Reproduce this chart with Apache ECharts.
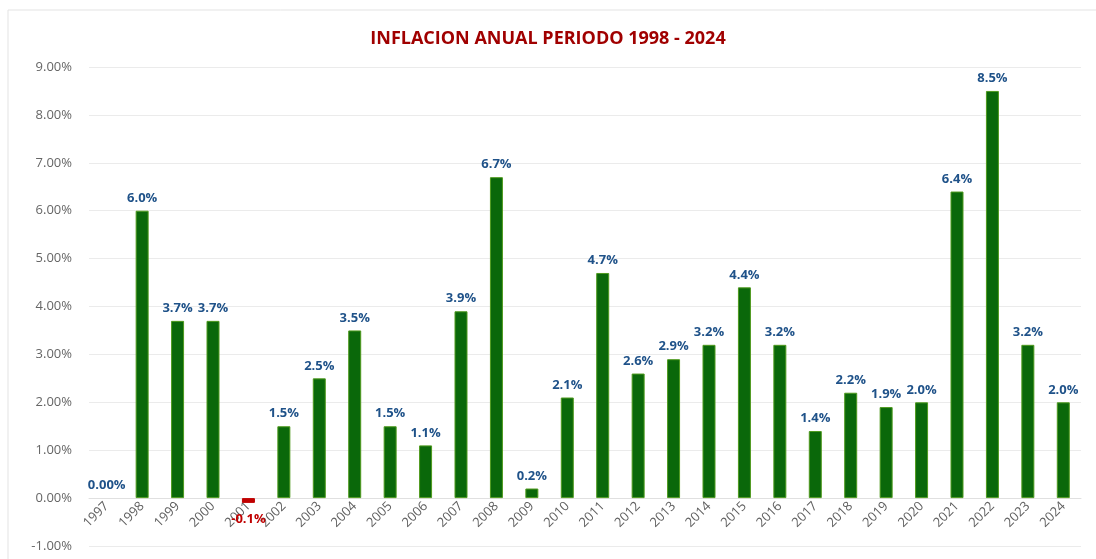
<!DOCTYPE html>
<html>
<head>
<meta charset="utf-8">
<script src="https://cdn.jsdelivr.net/npm/echarts@6/dist/echarts.min.js"></script>
<style>
	html, body { margin: 0; padding: 0; background: #fff; }
	#inflacion_chart { width: 1096px; height: 559px; }
</style>
</head>
<body>
<div id="inflacion_chart"></div>
<script>
var years = ['1997', '1998', '1999', '2000', '2001', '2002', '2003', '2004', '2005', '2006',
	'2007', '2008', '2009', '2010', '2011', '2012', '2013', '2014', '2015', '2016',
	'2017', '2018', '2019', '2020', '2021', '2022', '2023', '2024'];
var inflacion = [0.0, 6.0, 3.7, 3.7, -0.1, 1.5, 2.5, 3.5, 1.5, 1.1,
	3.9, 6.7, 0.2, 2.1, 4.7, 2.6, 2.9, 3.2, 4.4, 3.2,
	1.4, 2.2, 1.9, 2.0, 6.4, 8.5, 3.2, 2.0];
var yMin = -1;
var yMax = 9;
var yStep = 1;

var gridTop = 67;
var gridBottom = 13;
var plotHeight = 559 - gridTop - gridBottom;
// el eje de categorias se dibuja sobre la linea del 0%
var zeroOffset = plotHeight * (0 - yMin) / (yMax - yMin);

var chartData = [];
for (var i = 0; i < inflacion.length; i++) {
	var v = inflacion[i];
	var item = {value: v};
	if (v < 0) {
		// el negativo va en rojo, con la etiqueta debajo
		item.itemStyle = {color: '#c00000', borderColor: '#c00000'};
		item.label = {position: 'bottom', color: '#c00000', distance: 10};
	} else if (v === 0) {
		item.itemStyle = {borderWidth: 0, color: 'rgba(0,0,0,0)'};
	}
	chartData.push(item);
}

var myChart = echarts.init(document.getElementById('inflacion_chart'));

var option = {
	animation: false,
	backgroundColor: '#ffffff',
	title: {
		text: 'INFLACION ANUAL PERIODO 1998 - 2024',
		left: 'center',
		top: 25,
		textStyle: {
			color: '#a00000',
			fontFamily: 'Open Sans',
			fontWeight: 'bold',
			fontSize: 18
		}
	},
	graphic: [
		{
			type: 'rect',
			shape: {x: 8, y: 10, width: 1100, height: 560},
			style: {fill: 'none', stroke: '#e3e3e3', lineWidth: 1},
			silent: true
		}
	],
	grid: {
		left: 89,
		right: 15,
		top: gridTop,
		bottom: gridBottom,
		outerBoundsMode: 'none'
	},
	xAxis: {
		type: 'category',
		data: years,
		offset: -zeroOffset,
		axisLine: {onZero: false, lineStyle: {color: '#e0e0e0'}},
		axisTick: {show: false},
		axisLabel: {
			rotate: 45,
			interval: 0,
			margin: 6,
			color: '#5f5f5f',
			fontFamily: 'Open Sans',
			fontSize: 13
		}
	},
	yAxis: {
		type: 'value',
		min: yMin,
		max: yMax,
		interval: yStep,
		axisLine: {show: false},
		axisTick: {show: false},
		splitLine: {lineStyle: {color: '#ebebeb'}},
		axisLabel: {
			margin: 17,
			color: '#666666',
			fontFamily: 'Open Sans',
			fontSize: 13,
			formatter: function (val) {
				return val.toFixed(2) + '%';
			}
		}
	},
	series: [
		{
			name: 'Inflacion',
			type: 'bar',
			data: chartData,
			barWidth: 13,
			itemStyle: {
				color: '#0a680a',
				borderColor: '#4f9a1e',
				borderWidth: 1
			},
			label: {
				show: true,
				position: 'top',
				distance: 6,
				color: '#1f5289',
				fontFamily: 'Open Sans',
				fontWeight: 'bold',
				fontSize: 13,
				formatter: function (p) {
					if (p.value === 0) {
						return '0.00%';
					}
					return p.value.toFixed(1) + '%';
				}
			}
		}
	]
};

myChart.setOption(option);
</script>
</body>
</html>
